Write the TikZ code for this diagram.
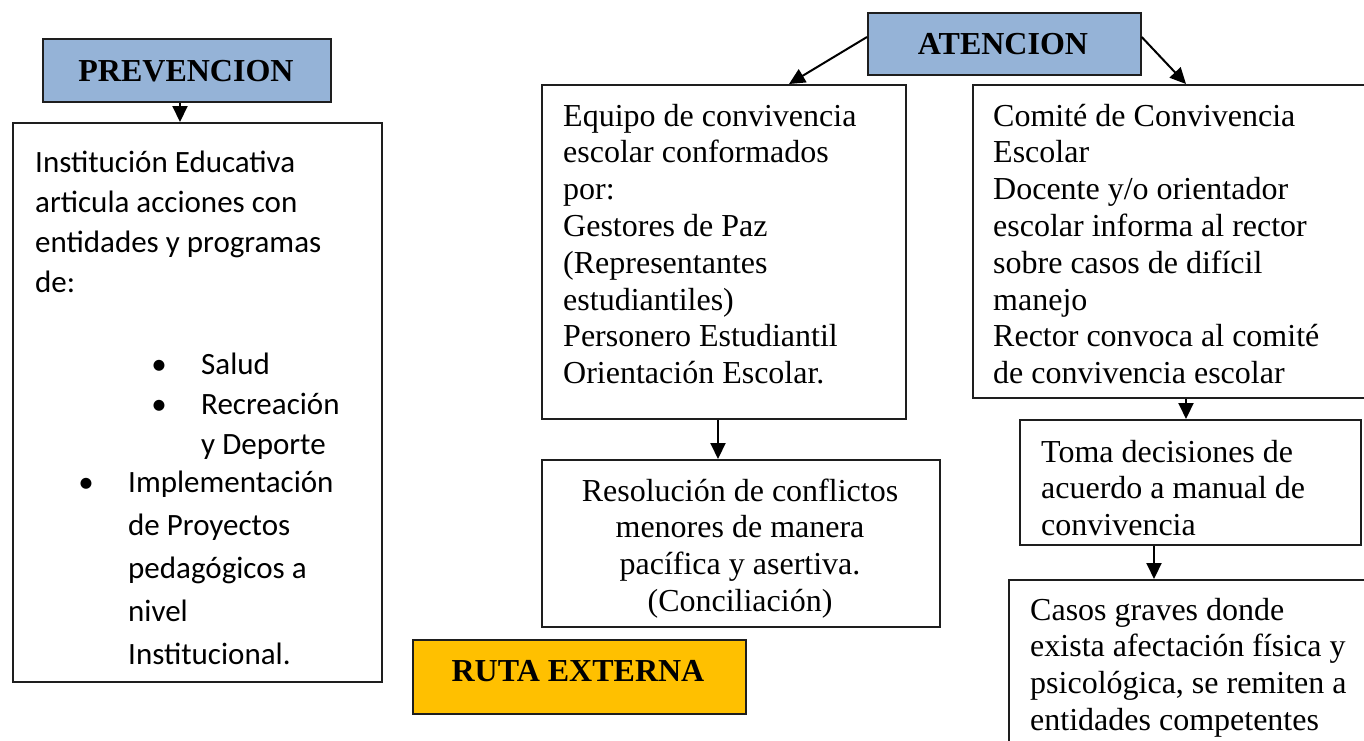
\documentclass[tikz,border=0pt]{standalone}
\usepackage{fontspec}
\setmainfont{Liberation Serif}
\newfontfamily\calib{Carlito}
\usetikzlibrary{arrows.meta}
\definecolor{hdrblue}{RGB}{149,179,215}
\definecolor{hdrorange}{RGB}{255,192,0}
\definecolor{edge}{RGB}{30,30,30}
\newcommand{\lftlines}[1]{\begin{tabular}[t]{@{}l@{}}#1\end{tabular}}
\newcommand{\ctrlines}[1]{\begin{tabular}[t]{@{}c@{}}#1\end{tabular}}
\tikzset{
  boxshape/.style={draw=edge, line width=1.7pt, rectangle, inner sep=0pt, anchor=north west},
  hdr/.style={boxshape, fill=hdrblue},
  ruta/.style={boxshape, fill=hdrorange},
  bodytxt/.style={inner sep=0pt, anchor=base west, font=\fontsize{32}{36.8}\selectfont},
  centtxt/.style={inner sep=0pt, anchor=base, font=\fontsize{32}{36.8}\selectfont},
  titletxt/.style={inner sep=0pt, anchor=base, font=\fontsize{32}{36}\selectfont\bfseries},
  caltxt/.style={inner sep=0pt, anchor=base west, font=\calib\fontsize{31}{40}\selectfont},
  calwide/.style={inner sep=0pt, anchor=base west, font=\calib\fontsize{31}{43}\selectfont},
  bul/.style={inner sep=0pt, anchor=base, font=\calib\fontsize{31}{40}\selectfont},
  link/.style={line width=2pt, -{Triangle[length=16pt,width=15pt]}}
}
\begin{document}
\begin{tikzpicture}[x=1pt,y=-1pt]
\useasboundingbox (0,0) rectangle (1364,740);
% boxes
\node[hdr, minimum width=288, minimum height=63] (prev) at (42,38) {};
\node[boxshape, minimum width=369, minimum height=559] (inst) at (12,122) {};
\node[hdr, minimum width=273, minimum height=62] (aten) at (867,12) {};
\node[boxshape, minimum width=364, minimum height=334] (equipo) at (541,84) {};
\node[boxshape, minimum width=398, minimum height=167] (resol) at (541,459) {};
\node[boxshape, minimum width=420, minimum height=313] (comite) at (972,84) {};
\node[boxshape, minimum width=341, minimum height=125] (toma) at (1019,419) {};
\node[boxshape, minimum width=380, minimum height=200] (casos) at (1008,579) {};
\node[ruta, minimum width=333, minimum height=74] (ruta) at (412,639) {};
% titles
\node[titletxt] (prevt) at (186,81) {PREVENCION};
\node[titletxt] (atent) at (1003,54) {ATENCION};
\node[titletxt] (rutat) at (578,681) {RUTA EXTERNA};
% left box text
\node[caltxt] (instt) at (35,172) {\lftlines{Institución Educativa\\articula acciones con\\entidades y programas\\de:}};
\node[bul] (b1) at (159,374) {•};
\node[bul] (b2) at (159,414) {•};
\node[caltxt] (b12t) at (201,374) {\lftlines{Salud\\Recreación\\y Deporte}};
\node[bul] (b3) at (86,492) {•};
\node[calwide] (b3t) at (128,492) {\lftlines{Implementación\\de Proyectos\\pedagógicos a\\nivel\\Institucional.}};
% atencion texts
\node[bodytxt] (equipot) at (563,126) {\lftlines{Equipo de convivencia\\escolar conformados\\por:\\Gestores de Paz\\(Representantes\\estudiantiles)\\Personero Estudiantil\\Orientación Escolar.}};
\node[centtxt] (resolt) at (740,501) {\ctrlines{Resolución de conflictos\\menores de manera\\pacífica y asertiva.\\(Conciliación)}};
\node[bodytxt] (comitet) at (993,126) {\lftlines{Comité de Convivencia\\Escolar\\Docente y/o orientador\\escolar informa al rector\\sobre casos de difícil\\manejo\\Rector convoca al comité\\de convivencia escolar}};
\node[bodytxt] (tomat) at (1041,462) {\lftlines{Toma decisiones de\\acuerdo a manual de\\convivencia}};
\node[bodytxt] (casost) at (1030,620) {\lftlines{Casos graves donde\\exista afectación física y\\psicológica, se remiten a\\entidades competentes}};
% connectors
\draw[link] (prev.south -| 180,0) -- (inst.north -| 180,0);
\draw[link] (aten.west |- 0,37) -- (equipo.north -| 789,0);
\draw[link] (aten.east |- 0,37) -- (comite.north -| 1186,0);
\draw[link] (equipo.south -| 718,0) -- (resol.north -| 718,0);
\draw[link] (comite.south -| 1186,0) -- (toma.north -| 1186,0);
\draw[link] (toma.south -| 1154,0) -- (casos.north -| 1154,0);
\end{tikzpicture}
\end{document}
